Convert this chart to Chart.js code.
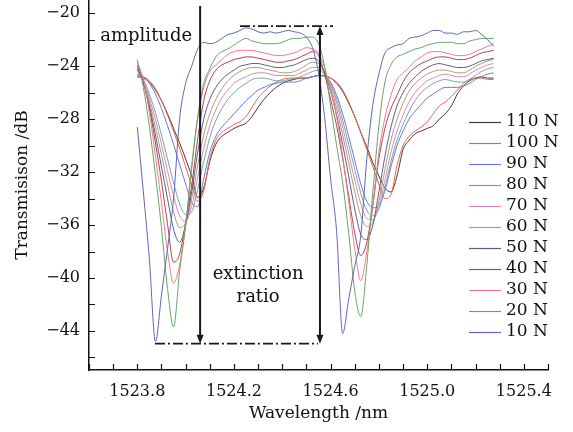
<!DOCTYPE html>
<html>
<head>
<meta charset="utf-8">
<script src="https://cdn.jsdelivr.net/npm/chart.js@4.4.1/dist/chart.umd.min.js"></script>
<style>
  html, body { margin: 0; padding: 0; background: #fff; }
  #wrap { width: 573px; height: 432px; }
</style>
</head>
<body>
<div id="wrap"><canvas id="spectrumChart"></canvas></div>
<script>
// wavelength grid (nm), shared by every curve
const wavelengths = [
  1523.800, 1523.825, 1523.850, 1523.875, 1523.900, 1523.925, 1523.950, 1523.975, 1524.000, 1524.025,
  1524.050, 1524.075, 1524.100, 1524.125, 1524.150, 1524.175, 1524.200, 1524.225, 1524.250, 1524.275,
  1524.300, 1524.325, 1524.350, 1524.375, 1524.400, 1524.425, 1524.450, 1524.475, 1524.500, 1524.525,
  1524.550, 1524.575, 1524.600, 1524.625, 1524.650, 1524.675, 1524.700, 1524.725, 1524.750, 1524.775,
  1524.800, 1524.825, 1524.850, 1524.875, 1524.900, 1524.925, 1524.950, 1524.975, 1525.000, 1525.025,
  1525.050, 1525.075, 1525.100, 1525.125, 1525.150, 1525.175, 1525.200, 1525.225, 1525.250, 1525.275
];

// transmission (dB) per load
const t10 = [
  -28.6, -33.5, -38.6, -44.8, -41.3, -37.8, -34.0, -28.0, -25.3, -24.0,
  -22.7, -22.2, -22.3, -22.2, -21.9, -21.6, -21.5, -21.3, -21.1, -21.2,
  -21.4, -21.5, -21.4, -21.5, -21.4, -21.3, -21.4, -21.5, -21.8, -22.6,
  -24.5, -27.8, -32.5, -36.5, -44.2, -41.6, -39.1, -36.8, -31.0, -26.9,
  -24.6, -23.0, -22.6, -22.4, -22.3, -21.9, -21.8, -21.7, -21.5, -21.3,
  -21.3, -21.5, -21.5, -21.6, -21.4, -21.4, -21.3, -21.6, -22.0, -22.5
];
const t20 = [
  -23.5, -25.6, -28.6, -32.2, -36.2, -40.8, -43.7, -39.5, -36.0, -31.5,
  -27.8, -25.3, -24.2, -23.3, -22.9, -22.7, -22.4, -22.1, -21.9, -22.1,
  -22.2, -22.3, -22.3, -22.3, -22.2, -22.0, -21.9, -21.9, -21.8, -21.8,
  -22.3, -24.0, -27.0, -30.0, -32.8, -36.6, -41.0, -42.9, -39.0, -33.5,
  -28.5, -25.2, -23.9, -23.3, -23.1, -22.9, -22.7, -22.6, -22.4, -22.3,
  -22.2, -22.2, -22.2, -22.3, -22.3, -22.1, -22.0, -21.9, -21.9, -21.9
];
const t30 = [
  -23.7, -25.0, -27.5, -30.8, -34.3, -38.0, -40.4, -39.0, -36.0, -31.8,
  -28.0, -25.6, -24.4, -23.9, -23.5, -23.1, -22.9, -22.8, -22.8, -22.8,
  -22.9, -23.0, -23.1, -23.2, -23.2, -23.1, -23.0, -22.8, -22.6, -22.7,
  -23.0, -24.1, -25.8, -27.8, -30.8, -34.2, -37.8, -40.2, -38.0, -34.5,
  -30.5, -27.9, -26.2, -25.0, -24.5, -24.1, -23.6, -23.3, -23.0, -22.9,
  -22.9, -23.0, -23.1, -23.2, -23.2, -23.1, -22.9, -22.7, -22.5, -22.3
];
const t40 = [
  -23.9, -25.2, -27.2, -29.8, -32.7, -35.9, -38.8, -38.2, -35.8, -33.0,
  -29.5, -26.6, -25.1, -24.3, -23.9, -23.7, -23.5, -23.4, -23.3, -23.3,
  -23.4, -23.5, -23.6, -23.7, -23.7, -23.6, -23.5, -23.3, -23.1, -22.9,
  -23.2, -24.6, -26.5, -28.5, -31.0, -33.8, -36.6, -38.3, -37.3, -34.5,
  -31.0, -28.7, -27.2, -26.2, -25.2, -24.5, -24.1, -23.8, -23.6, -23.4,
  -23.3, -23.3, -23.4, -23.5, -23.5, -23.4, -23.2, -23.0, -22.9, -22.8
];
const t50 = [
  -24.1, -25.3, -27.0, -29.2, -31.6, -34.0, -36.3, -37.3, -36.0, -33.5,
  -30.5, -28.0, -26.5, -25.6, -25.0, -24.6, -24.3, -24.0, -23.9, -23.8,
  -23.8, -23.9, -24.0, -24.1, -24.1, -24.0, -23.9, -23.7, -23.5, -23.4,
  -23.6, -24.5, -25.9, -27.7, -29.9, -32.3, -34.8, -36.7, -37.1, -36.0,
  -33.5, -30.8, -28.6, -27.0, -26.0, -25.3, -24.8, -24.4, -24.1, -23.9,
  -23.8, -23.9, -24.0, -24.1, -24.1, -24.0, -23.8, -23.6, -23.5, -23.4
];
const t60 = [
  -24.2, -25.2, -26.7, -28.6, -30.7, -32.9, -35.0, -36.2, -35.8, -34.0,
  -31.5, -29.2, -27.6, -26.5, -25.7, -25.1, -24.7, -24.4, -24.2, -24.1,
  -24.1, -24.2, -24.3, -24.4, -24.5, -24.5, -24.4, -24.2, -23.9, -23.7,
  -23.8, -24.4, -25.6, -27.2, -29.2, -31.3, -33.5, -35.3, -36.1, -35.8,
  -34.2, -31.8, -29.6, -28.0, -26.8, -25.9, -25.3, -24.9, -24.6, -24.4,
  -24.3, -24.3, -24.4, -24.5, -24.5, -24.3, -24.0, -23.8, -23.6, -23.5
];
const t70 = [
  -24.3, -25.1, -26.4, -28.0, -29.9, -31.9, -33.8, -35.3, -35.7, -34.6,
  -32.4, -30.2, -28.5, -27.3, -26.4, -25.8, -25.3, -25.0, -24.8, -24.6,
  -24.5, -24.5, -24.6, -24.7, -24.7, -24.7, -24.7, -24.5, -24.3, -24.1,
  -24.1, -24.5, -25.4, -26.8, -28.6, -30.6, -32.6, -34.4, -35.5, -35.6,
  -34.6, -32.6, -30.5, -28.9, -27.7, -26.7, -26.0, -25.5, -25.1, -24.9,
  -24.7, -24.6, -24.7, -24.8, -24.8, -24.6, -24.3, -24.1, -23.9, -23.8
];
const t80 = [
  -24.4, -25.0, -26.1, -27.5, -29.2, -31.0, -32.8, -34.4, -35.2, -35.0,
  -33.3, -31.2, -29.4, -28.1, -27.2, -26.5, -26.0, -25.6, -25.3, -25.0,
  -24.9, -24.9, -25.0, -25.1, -25.1, -25.0, -24.9, -24.8, -24.6, -24.4,
  -24.3, -24.6, -25.3, -26.5, -28.1, -29.9, -31.8, -33.6, -34.9, -35.3,
  -34.8, -33.2, -31.2, -29.6, -28.4, -27.4, -26.6, -26.0, -25.6, -25.3,
  -25.1, -25.0, -25.1, -25.2, -25.2, -25.0, -24.7, -24.4, -24.2, -24.1
];
const t90 = [
  -24.6, -24.8, -25.3, -26.1, -27.2, -28.5, -29.9, -31.4, -32.9, -34.3,
  -34.6, -32.5, -30.5, -29.3, -28.6, -28.1, -27.6, -27.1, -26.6, -26.2,
  -25.8, -25.6, -25.4, -25.3, -25.2, -25.2, -25.2, -25.1, -24.9, -24.8,
  -24.7, -24.7, -25.2, -26.2, -27.6, -29.3, -31.1, -32.9, -34.2, -34.7,
  -34.5, -33.4, -31.6, -30.0, -28.9, -28.0, -27.4, -26.9, -26.4, -26.1,
  -25.8, -25.6, -25.6, -25.6, -25.5, -25.3, -25.0, -24.8, -24.6, -24.5
];
const t100 = [
  -24.7, -24.8, -25.1, -25.7, -26.6, -27.7, -28.9, -30.2, -31.6, -33.0,
  -34.2, -33.4, -31.0, -29.6, -29.0, -28.7, -28.4, -28.2, -27.8, -27.1,
  -26.4, -25.9, -25.5, -25.2, -25.0, -24.9, -24.9, -24.9, -24.9, -24.8,
  -24.7, -24.7, -24.9, -25.2, -25.8, -26.7, -27.8, -29.0, -30.3, -31.6,
  -32.9, -34.0, -33.7, -31.5, -30.0, -29.3, -28.9, -28.6, -28.2, -27.6,
  -27.0, -26.7, -26.3, -25.8, -25.3, -25.0, -24.9, -24.9, -25.0, -25.0
];
const t110 = [
  -24.8, -24.9, -25.2, -25.8, -26.6, -27.6, -28.7, -29.8, -31.0, -32.3,
  -33.9, -33.2, -31.2, -29.9, -29.3, -29.0, -28.7, -28.5, -28.3, -27.8,
  -27.1, -26.5, -26.0, -25.6, -25.3, -25.1, -25.0, -24.9, -24.9, -24.8,
  -24.7, -24.75, -24.9, -25.3, -25.9, -26.8, -27.8, -29.0, -30.1, -31.3,
  -32.3, -33.2, -33.5, -32.3, -30.3, -29.6, -29.1, -28.9, -28.7, -28.5,
  -28.0, -27.6, -27.0, -26.1, -25.5, -25.1, -24.9, -24.8, -24.9, -24.9
];

const loadLabels = ['10 N', '20 N', '30 N', '40 N', '50 N', '60 N', '70 N', '80 N', '90 N', '100 N', '110 N'];
const loadSeries = [t10, t20, t30, t40, t50, t60, t70, t80, t90, t100, t110];
const loadColors = ['#6464b4', '#64a664', '#f07898', '#a44848', '#5c5c8c', '#aaa06c',
                    '#d088c8', '#74a6a6', '#6878d2', '#f26048', '#3c3c3c'];

const xTickLabels = ['1523.8', '1524.2', '1524.6', '1525.0', '1525.4'];
const yTickLabels = [-20, -24, -28, -32, -36, -40, -44];

// annotation geometry, in data units
const ampX = 1524.06, ampTop = -19.45;
const ratioX = 1524.556, ratioTop = -20.97;
const floorY = -44.96;
const topDash = [1524.225, 1524.61];
const floorDash = [1523.873, 1524.548];

const FONT = '"DejaVu Serif", "Liberation Serif", serif';
const INK = '#111';

const datasets = loadSeries.map((s, i) => ({
  label: loadLabels[i],
  data: wavelengths.map((w, j) => ({ x: w, y: s[j] })),
  borderColor: loadColors[i],
  borderWidth: 1,
  pointRadius: 0,
  fill: false,
  cubicInterpolationMode: 'monotone'
}));

function arrowHead(ctx, x, y, dir) {
  ctx.beginPath();
  ctx.moveTo(x, y);
  ctx.lineTo(x - 3.5, y - dir * 9);
  ctx.lineTo(x + 3.5, y - dir * 9);
  ctx.closePath();
  ctx.fill();
}

const decorations = {
  id: 'decorations',
  afterDraw(chart) {
    const { ctx, chartArea: area, scales: { x, y } } = chart;
    ctx.save();

    // inward tick marks
    ctx.strokeStyle = INK;
    ctx.lineWidth = 1.2;
    ctx.beginPath();
    y.ticks.forEach(t => {
      const py = Math.round(y.getPixelForValue(t.value)) + 0.5;
      ctx.moveTo(area.left, py);
      ctx.lineTo(area.left + 6, py);
    });
    x.ticks.forEach(t => {
      const px = Math.round(x.getPixelForValue(t.value)) + 0.5;
      ctx.moveTo(px, area.bottom);
      ctx.lineTo(px, area.bottom - 6);
    });
    ctx.stroke();

    // dash-dot reference levels
    ctx.strokeStyle = '#1a1a1a';
    ctx.lineWidth = 1.6;
    ctx.setLineDash([10, 3, 2, 3]);
    ctx.beginPath();
    ctx.moveTo(x.getPixelForValue(topDash[0]), y.getPixelForValue(ratioTop));
    ctx.lineTo(x.getPixelForValue(topDash[1]), y.getPixelForValue(ratioTop));
    ctx.moveTo(x.getPixelForValue(floorDash[0]), y.getPixelForValue(floorY));
    ctx.lineTo(x.getPixelForValue(floorDash[1]), y.getPixelForValue(floorY));
    ctx.stroke();
    ctx.setLineDash([]);

    // arrows
    ctx.strokeStyle = '#1a1a1a';
    ctx.fillStyle = '#1a1a1a';
    ctx.lineWidth = 2;
    const ax = x.getPixelForValue(ampX);
    const rx = x.getPixelForValue(ratioX);
    const fy = y.getPixelForValue(floorY);
    ctx.beginPath();
    ctx.moveTo(ax, y.getPixelForValue(ampTop));
    ctx.lineTo(ax, fy - 6);
    ctx.moveTo(rx, y.getPixelForValue(ratioTop) + 6);
    ctx.lineTo(rx, fy - 6);
    ctx.stroke();
    arrowHead(ctx, ax, fy, 1);
    arrowHead(ctx, rx, fy, 1);
    arrowHead(ctx, rx, y.getPixelForValue(ratioTop), -1);

    // labels
    ctx.fillStyle = INK;
    ctx.font = '18px ' + FONT;
    ctx.textAlign = 'right';
    ctx.textBaseline = 'alphabetic';
    ctx.fillText('amplitude', ax - 8, y.getPixelForValue(-22.1));
    ctx.textAlign = 'center';
    ctx.fillText('extinction', x.getPixelForValue(1524.30), y.getPixelForValue(-40.04));
    ctx.fillText('ratio', x.getPixelForValue(1524.30), y.getPixelForValue(-41.85));

    // legend, 110 N on top
    ctx.font = '17px ' + FONT;
    ctx.textAlign = 'left';
    ctx.textBaseline = 'middle';
    ctx.lineWidth = 1.2;
    for (let r = 0; r < loadLabels.length; r++) {
      const i = loadLabels.length - 1 - r;
      const ly = 122 + r * 21;
      ctx.strokeStyle = loadColors[i];
      ctx.beginPath();
      ctx.moveTo(469, ly + 0.5);
      ctx.lineTo(501, ly + 0.5);
      ctx.stroke();
      ctx.fillText(loadLabels[i], 506, ly);
    }
    ctx.restore();
  }
};

new Chart(document.getElementById('spectrumChart'), {
  type: 'line',
  data: { datasets },
  plugins: [decorations],
  options: {
    responsive: true,
    maintainAspectRatio: false,
    animation: false,
    layout: { padding: { left: 0, right: 25, top: 0, bottom: 0 } },
    font: { family: FONT },
    plugins: {
      legend: { display: false },
      tooltip: { enabled: false }
    },
    scales: {
      x: {
        type: 'linear',
        min: 1523.6,
        max: 1525.5,
        afterFit: s => { s.height = 62; s.paddingLeft = 0; s.paddingRight = 0; },
        border: { display: true, color: INK, width: 1.5 },
        grid: { drawOnChartArea: false, drawTicks: false },
        ticks: {
          stepSize: 0.1,
          autoSkip: false,
          maxRotation: 0,
          includeBounds: false,
          padding: 12,
          color: INK,
          font: { family: FONT, size: 16 },
          callback: v => {
            const s = Number(v).toFixed(1);
            return xTickLabels.includes(s) ? s : '';
          }
        },
        title: {
          display: true,
          text: 'Wavelength /nm',
          color: INK,
          font: { family: FONT, size: 17 },
          padding: { top: 0, bottom: 8 }
        }
      },
      y: {
        type: 'linear',
        min: -46.95,
        max: -19,
        afterFit: s => { s.width = 89; s.paddingTop = 0; s.paddingBottom = 0; },
        border: { display: true, color: INK, width: 1.5 },
        grid: { drawOnChartArea: false, drawTicks: false },
        ticks: {
          stepSize: 2,
          autoSkip: false,
          includeBounds: false,
          padding: 9,
          color: INK,
          font: { family: FONT, size: 16 },
          callback: v => {
            const n = Math.round(Number(v));
            return yTickLabels.includes(n) ? '\u2212' + Math.abs(n) : '';
          }
        },
        title: {
          display: true,
          text: 'Transmisison /dB',
          color: INK,
          font: { family: FONT, size: 17 },
          padding: { top: 12, bottom: 0 }
        }
      }
    }
  }
});
</script>
</body>
</html>
